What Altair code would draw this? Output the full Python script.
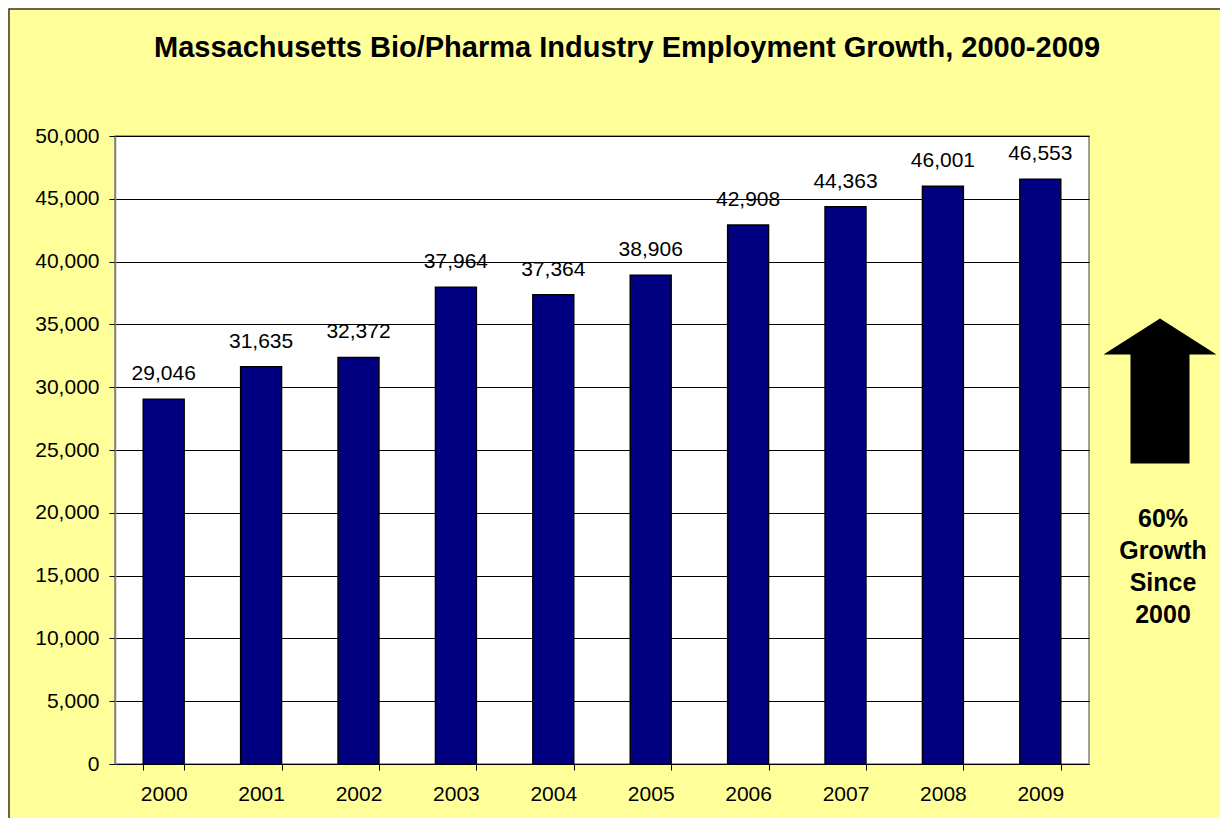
import altair as alt
import pandas as pd

years = ["2000", "2001", "2002", "2003", "2004", "2005", "2006", "2007", "2008", "2009"]
employment = [29046, 31635, 32372, 37964, 37364, 38906, 42908, 44363, 46001, 46553]
title_text = "Massachusetts Bio/Pharma Industry Employment Growth, 2000-2009"
note_lines = ["60%", "Growth", "Since", "2000"]

df = pd.DataFrame({"year": years, "employment": employment})

W, H = 974, 628
PAD = {"left": 107, "top": 128, "right": 131, "bottom": 54}
FONT = "Liberation Sans"

x = alt.X("year:N", title=None, sort=years,
          scale=alt.Scale(paddingInner=0.58, paddingOuter=0.29),
          axis=alt.Axis(labelAngle=0, labelFontSize=21, labelColor="black",
                        tickBand="extent", tickSize=6, tickColor="black",
                        domainColor="black", labelPadding=13, grid=False))
y = alt.Y("employment:Q", title=None,
          scale=alt.Scale(domain=[0, 50000], nice=False),
          axis=alt.Axis(values=list(range(0, 50001, 5000)), format=",d",
                        labelFontSize=21, labelColor="black", tickSize=6,
                        tickColor="black", labelPadding=10,
                        domainColor="#808080", domainWidth=1.5,
                        grid=True, gridColor="black", gridWidth=1, gridOpacity=1))

base = alt.Chart(df)
bars = base.mark_bar(color="#000080", stroke="black", strokeWidth=1.5).encode(x=x, y=y)
labels = base.mark_text(fontSize=21, baseline="alphabetic", dy=-19, color="black",
                        font=FONT).encode(x=x, y=y, text=alt.Text("employment:Q", format=",d"))

arrow_path = "M0,-1 L0.779,-0.503 L0.407,-0.503 L0.407,1 L-0.407,1 L-0.407,-0.503 L-0.779,-0.503 Z"
arrow = alt.Chart(pd.DataFrame({"a": [1]})).mark_point(
    shape=arrow_path, filled=True, color="black", opacity=1, size=145 * 145, strokeWidth=0
).encode(x=alt.value(1045), y=alt.value(255))

note = alt.Chart(pd.DataFrame({"t": ["\n".join(note_lines)]})).mark_text(
    fontSize=25, fontWeight="bold", lineBreak="\n", lineHeight=32, align="center",
    baseline="middle", color="black", font=FONT
).encode(x=alt.value(1048), y=alt.value(383), text="t:N")

title = alt.Chart(pd.DataFrame({"t": [title_text]})).mark_text(
    fontSize=29, fontWeight="bold", align="center",
    baseline="alphabetic", color="black", font=FONT
).encode(x=alt.value(512), y=alt.value(-79), text="t:N")

border = alt.Chart(pd.DataFrame({"a": [1]})).mark_rect(
    fill=None, stroke="#333333", strokeWidth=1.5
).encode(x=alt.value(-106), x2=alt.value(W + PAD["right"] + 10),
         y=alt.value(-127), y2=alt.value(H + PAD["bottom"] + 10))

chart = alt.layer(border, bars, labels, arrow, note, title).properties(
    width=W, height=H,
    autosize=alt.AutoSizeParams(type="none"),
    padding=PAD,
    background="#FFFF99",
).configure_view(fill="white", stroke="#808080", strokeWidth=1.5).configure_axis(
    labelFont=FONT
)

chart.save("out.html", embed_options={"renderer": "svg", "actions": False})
